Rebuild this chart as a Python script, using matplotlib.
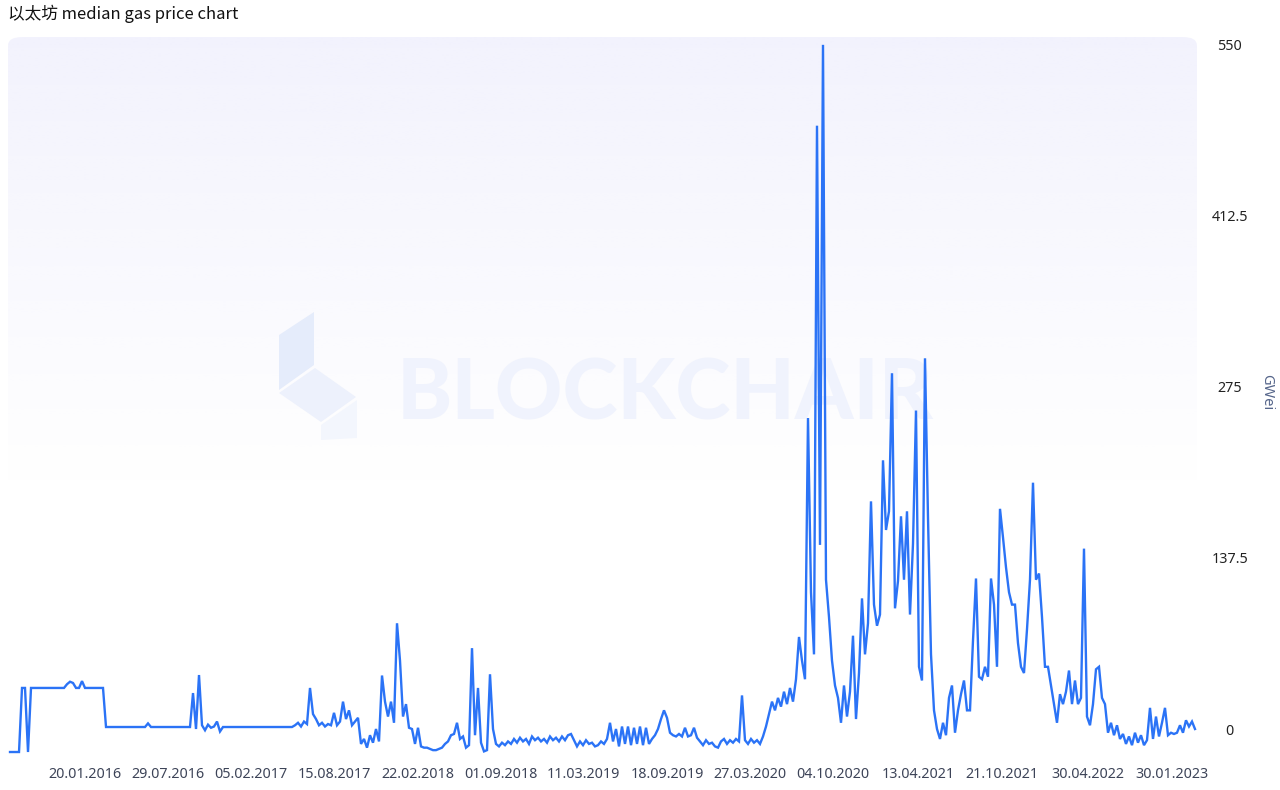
import matplotlib
matplotlib.use('Agg')
import matplotlib.pyplot as plt
import numpy as np
from matplotlib.patches import FancyBboxPatch, Polygon

# median gas price (GWei), one reading every ~7 days from launch to 2023
gas = [
    -18.5, -18.5, -18.5, -18.5, 33, 33, -18.5, 33,
    33, 33, 33, 33, 33, 33, 33, 33, 33, 33, 33,
    36, 38, 37, 33, 33, 38.5, 33, 33, 33, 33, 33, 33, 33,
    1.6, 1.6, 1.6, 1.6, 1.6, 1.6, 1.6, 1.6, 1.6, 1.6, 1.6, 1.6, 1.6, 1.6,
    4.5, 1.6, 1.6, 1.6, 1.6, 1.6, 1.6, 1.6, 1.6, 1.6, 1.6, 1.6, 1.6, 1.6,
    1.6, 28.9, 0, 43.4, 3, -1, 3.5, 1, 2, 6, -2, 1.6,
    1.6, 1.6, 1.6, 1.6, 1.6, 1.6, 1.6, 1.6, 1.6, 1.6, 1.6, 1.6, 1.6, 1.6,
    1.6, 1.6, 1.6, 1.6, 1.6, 1.6, 1.6, 1.6, 1.6,
    3, 5, 2, 6, 4, 33, 12, 8, 3, 5, 2, 4, 3, 13, 3, 6, 22, 8, 15, 3, 6, 9,
    -12, -8, -15, -5, -11, 0, -10, 43, 22, 10, 22, 5, 85, 55, 10, 20, 1, 0,
    -12, 1, -14, -15, -15, -16, -17, -17, -16, -15, -12, -10, -5, -4, 5, -8,
    -6, -15, -13, 65, -5, 33, -11, -18, -17, 44, 0, -12, -14, -11, -13, -10,
    -12, -8, -11, -7, -10, -8, -12, -6, -9, -7, -10, -8, -11, -6, -9, -7,
    -10, -6, -9, -5, -4, -9, -14, -10, -13, -9, -12, -11, -14, -13, -10, -12,
    -8, 5, -10, 0, -14, 2, -12, 2, -13, 1, -12, 2, -13, 1, -12, -8, -5, 0,
    8, 15, 9, -3, -5, -6, -4, -6, 1, -6, -5, 1, -7, -10, -13, -9, -12, -11,
    -14, -15, -10, -8, -12, -9, -11, -8, -10, 27, -9, -12, -8, -11, -9, -12,
    -6, 2, 12, 22, 15, 25, 18, 30, 20, 33, 22, 40, 74, 55, 40, 250, 110, 60,
    485, 148, 550, 120, 90, 55, 35, 25, 5, 35, 10, 30, 75, 8, 45, 105, 60, 85,
    183, 100, 83, 92, 216, 160, 175, 286, 97, 119, 171, 120, 175, 92, 149, 256,
    50, 39, 298, 170, 60, 15, 0, -8, 5, -5, 25, 35, -3, 15, 28, 39, 15, 15,
    71, 121, 42, 40, 50, 42, 121, 100, 50, 177, 154, 130, 110, 100, 100, 69,
    50, 45, 80, 120, 198, 120, 125, 90, 50, 50, 35, 20, 5, 28, 20, 30, 47, 20,
    39, 20, 25, 145, 10, 3, 20, 48, 50, 25, 20, -3, 5, -5, 3, -8, -4, -12, -6,
    -13, -3, -11, -5, -13, -9, 17, -8, 10, -6, 5, 17, -5, -3, -4, -3, 3, -3,
    7, 2, 6, 0,
]

date_labels = ['20.01.2016', '29.07.2016', '05.02.2017', '15.08.2017',
               '22.02.2018', '01.09.2018', '11.03.2019', '18.09.2019',
               '27.03.2020', '04.10.2020', '13.04.2021', '21.10.2021',
               '30.04.2022', '30.01.2023']
date_pos = [25, 52.7, 80.3, 108, 136, 163.7, 191.3, 219, 246.7, 274.3,
            302.7, 330.7, 359.3, 387.3]
y_ticks = [0, 137.5, 275, 412.5, 550]

line_color = '#2b73f6'

fig = plt.figure(figsize=(12.8, 7.9), dpi=100)
fig.patch.set_facecolor('white')

W, H = 1280, 790
def fpx(x, y):
    return (x / W, 1 - y / H)

ax = fig.add_axes([8 / W, 35 / H, 1189 / W, 718 / H])
ax.set_facecolor('none')
for s in ax.spines.values():
    s.set_visible(False)

x = np.arange(len(gas))
ax.set_xlim(-0.67, 395.67)
ax.set_ylim(-20.9, 556.3)

# background: lavender fading to white, rounded box
box = FancyBboxPatch((0, 0), 1, 1, boxstyle='round,pad=0,rounding_size=0.012',
                     transform=ax.transAxes, facecolor='none', edgecolor='none')
ax.add_patch(box)
grad = np.ones((256, 2, 4))
grad[..., 0] = 242 / 255
grad[..., 1] = 242 / 255
grad[..., 2] = 253 / 255
alpha = np.clip(1 - np.linspace(0, 1, 256) / 0.62, 0, 1) * 0.95
grad[..., 3] = alpha[:, None]
im = ax.imshow(grad, extent=[0, 1, 0, 1], transform=ax.transAxes,
               aspect='auto', zorder=0, interpolation='bilinear')
im.set_clip_path(box)

# watermark (behind the line)
ax.text(665 / W, 1 - 395 / H, 'BLOCKCHAIR', fontsize=60, fontweight='black',
        family='Lato', color='#f0f3fd', ha='center', va='center', zorder=1,
        transform=fig.transFigure, clip_on=False)
logo = [
    ([(279, 335), (314, 312), (314, 365), (279, 390)], '#e5ecfb'),
    ([(279, 393), (315, 368), (356, 397), (321, 422)], '#edf1fc'),
    ([(321, 425), (357, 400), (357, 438), (321, 440)], '#f3f6fd'),
]
for pts, c in logo:
    ax.add_patch(Polygon([fpx(*p) for p in pts], closed=True,
                         transform=fig.transFigure, facecolor=c,
                         edgecolor='none', zorder=1, clip_on=False))

ax.plot(x, gas, color=line_color, lw=1.7, zorder=3, solid_joinstyle='miter')

ax.set_xticks(date_pos)
ax.set_xticklabels(date_labels, family='Noto Sans', fontsize=10.3, color='#3d4458')
ax.tick_params(axis='x', length=0, pad=9)

ax.yaxis.tick_right()
ax.set_yticks(y_ticks)
ax.set_yticklabels(['0', '137.5', '275', '412.5', '550'], family='Noto Sans',
                   fontsize=10.3, color='#222222')
ax.tick_params(axis='y', length=0, pad=23.5)
for lab in ax.get_yticklabels():
    lab.set_horizontalalignment('center')

fig.text(1267 / W, 1 - 392 / H, 'GWei', rotation=270, family='Noto Sans',
         fontsize=10.5, color='#55658a', ha='center', va='center')

fig.text(8 / W, 1 - 14 / H, '以太坊 median gas price chart',
         family=['Noto Sans CJK SC', 'DejaVu Sans'], fontsize=12,
         color='#111111', ha='left', va='center')

fig.savefig('out.png', dpi=100, facecolor='white')
